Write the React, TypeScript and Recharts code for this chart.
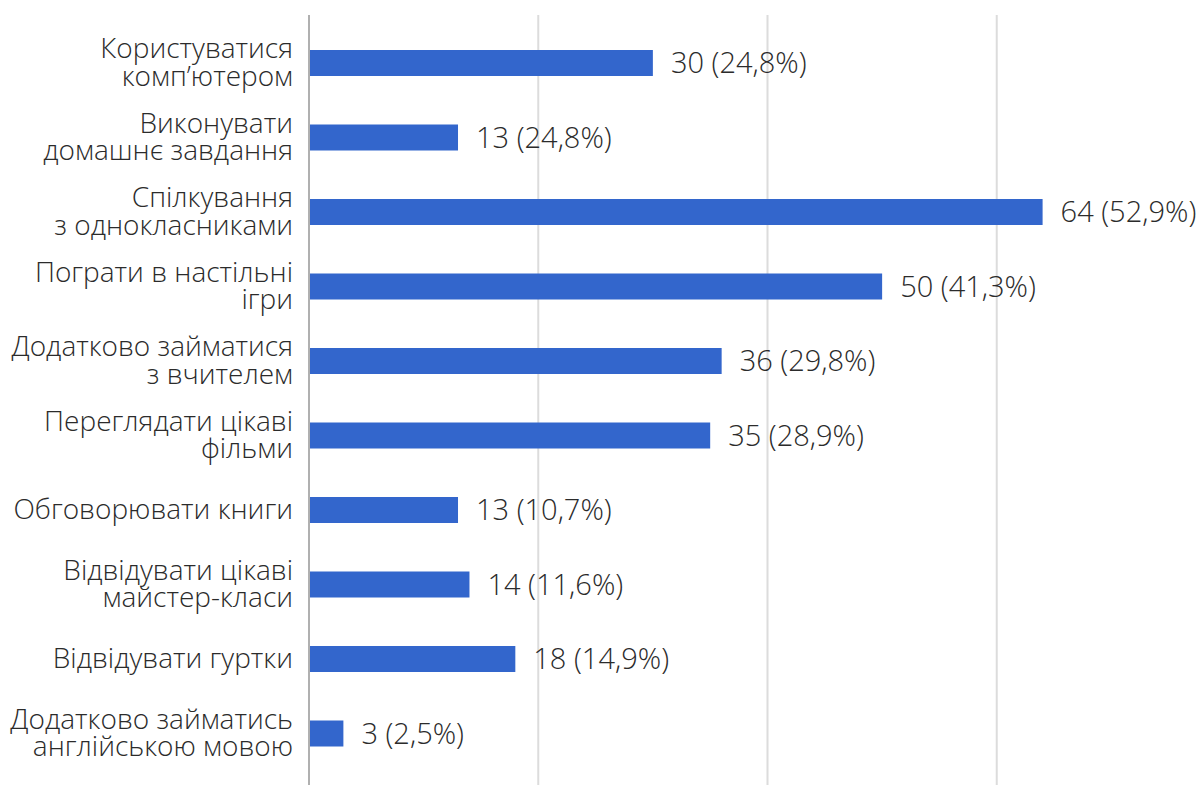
import { BarChart, Bar, XAxis, YAxis, CartesianGrid, LabelList } from 'recharts';

const categories = [
  'Користуватися\nкомп’ютером',
  'Виконувати\nдомашнє завдання',
  'Спілкування\nз однокласниками',
  'Пограти в настільні\nігри',
  'Додатково займатися\nз вчителем',
  'Переглядати цікаві\nфільми',
  'Обговорювати книги',
  'Відвідувати цікаві\nмайстер-класи',
  'Відвідувати гуртки',
  'Додатково займатись\nанглійською мовою',
];

const counts = [30, 13, 64, 50, 36, 35, 13, 14, 18, 3];

const percents = ['24,8%', '24,8%', '52,9%', '41,3%', '29,8%', '28,9%', '10,7%', '11,6%', '14,9%', '2,5%'];

const xTicks = [0, 20, 40, 60, 80];

const data = categories.map((name, i) => ({
  name,
  value: counts[i],
  label: `${counts[i]} (${percents[i]})`,
}));

const FONT = '"Open Sans", Lato, sans-serif';
const TEXT = '#2b2b2b';

function CategoryTick(props: any) {
  const { x, y, payload } = props;
  const lines = String(payload.value).split('\n');
  const lh = 27.5;
  return (
    <text x={x} y={y} textAnchor="end" fill={TEXT} fontSize={28} fontWeight={300} fontFamily={FONT}>
      {lines.map((line, i) => (
        <tspan key={i} x={x} y={y + (i - (lines.length - 1) / 2) * lh + 8.5}>
          {line}
        </tspan>
      ))}
    </text>
  );
}

export default function App() {
  // the 80 gridline falls just past the right edge, so the chart is a bit wider than the frame
  return (
    <div
      style={{
        position: 'absolute',
        left: 0,
        top: 0,
        width: 1204,
        height: 786,
        overflow: 'hidden',
        background: '#fff',
      }}
    >
      <BarChart
        width={1240}
        height={786}
        data={data}
        layout="vertical"
        margin={{ top: 15, right: 14, bottom: 1, left: 0 }}
      >
        <CartesianGrid horizontal={false} stroke="#dcdcdc" strokeWidth={2} />
        <XAxis type="number" domain={[0, 80]} ticks={xTicks} hide />
        <YAxis
          type="category"
          dataKey="name"
          width={309}
          tick={<CategoryTick />}
          tickLine={false}
          tickSize={0}
          tickMargin={16}
          axisLine={{ stroke: '#b0b0b0', strokeWidth: 2 }}
          padding={{ top: 11, bottom: 14 }}
          interval={0}
        />
        <Bar dataKey="value" fill="#3366cc" barSize={26} isAnimationActive={false}>
          <LabelList
            dataKey="label"
            position="right"
            offset={18}
            fill={TEXT}
            fontSize={29}
            fontWeight={300}
            fontFamily={FONT}
          />
        </Bar>
      </BarChart>
    </div>
  );
}
